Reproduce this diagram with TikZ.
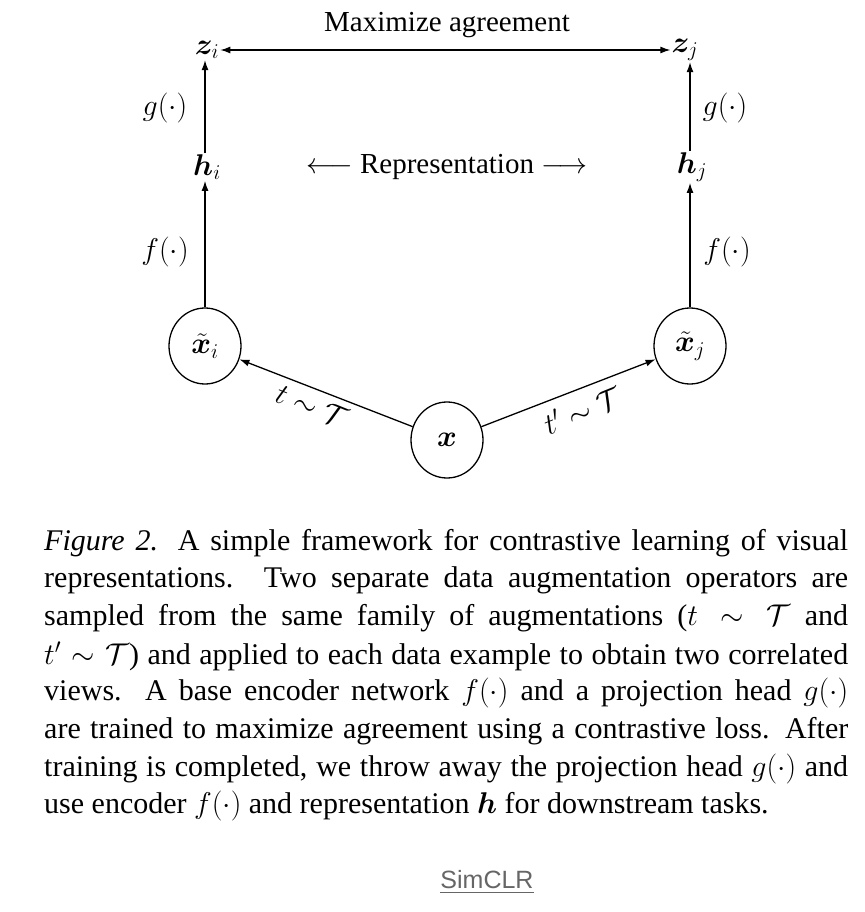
\RequirePackage{fix-cm}
\documentclass[tikz,border=0pt]{standalone}
\usepackage{amsmath,bm}
\usepackage{fontspec}
\setmainfont{Liberation Serif}
\usetikzlibrary{arrows.meta,shapes.geometric}
\begin{document}
\begin{tikzpicture}[x=1pt,y=-1pt,
  lab/.style={font=\fontsize{29}{33}\selectfont, inner sep=1pt},
  mlab/.style={font=\fontsize{30}{34}\selectfont, inner sep=1pt},
  circ/.style={draw, line width=1.3pt, ellipse, minimum width=72pt, minimum height=76pt, inner sep=0pt, font=\fontsize{30}{34}\selectfont},
  arr/.style={line width=1.3pt, -{Latex[length=10pt,width=7pt]}},
  capline/.style={anchor=west, inner sep=0pt, font=\fontsize{30}{36}\selectfont}]
\useasboundingbox (0,0) rectangle (864,912);
% top
\node[mlab] (zi) at (207,50) {$\bm{z}_i$};
\node[mlab] (zj) at (685,50) {$\bm{z}_j$};
\node[lab] (max) at (447,25) {Maximize agreement};
\draw[line width=1.3pt, {Latex[length=10pt,width=7pt]}-{Latex[length=10pt,width=7pt]}] (zi.east) -- (zj.west);
\node[mlab] (hi) at (207,167) {$\bm{h}_i$};
\node[mlab] (hj) at (692,167) {$\bm{h}_j$};
\node[lab] (rep) at (447,167) {$\longleftarrow$ Representation $\longrightarrow$};
\node[mlab] (gl) at (165,108) {$g(\cdot)$};
\node[mlab] (gr) at (725,108) {$g(\cdot)$};
\node[mlab] (fl) at (165,252) {$f(\cdot)$};
\node[mlab] (fr) at (727,252) {$f(\cdot)$};
\node[circ] (xi) at (205,346) {$\tilde{\bm{x}}_i$};
\node[circ] (xj) at (690,346) {$\tilde{\bm{x}}_j$};
\node[circ] (x) at (447,440) {$\bm{x}$};
\draw[arr] ([xshift=-2pt]hi.north) -- ([xshift=-2pt]hi.north |- zi.south);
\draw[arr] ([xshift=-2pt]hj.north) -- ([xshift=-2pt]hj.north |- zj.south);
\draw[arr] (xi.north) -- (xi.north |- hi.south);
\draw[arr] (xj.north) -- (xj.north |- hj.south);
\draw[arr] (x) -- (xi);
\draw[arr] (x) -- (xj);
\node[mlab, rotate=-22] (tl) at (312,406) {$t\sim\mathcal{T}$};
\node[mlab, rotate=22] (tr) at (582,410) {$t'\sim\mathcal{T}$};
% caption
\node[capline] (c1) at (44,543) {\makebox[804pt][s]{\textit{Figure 2.} A simple framework for contrastive learning of visual}};
\node[capline] (c2) at (44,580) {\makebox[804pt][s]{representations. Two separate data augmentation operators are}};
\node[capline] (c3) at (44,618) {\makebox[804pt][s]{sampled from the same family of augmentations ($t\sim\mathcal{T}$ and}};
\node[capline] (c4) at (44,656) {\makebox[804pt][s]{$t'\sim\mathcal{T}$) and applied to each data example to obtain two correlated}};
\node[capline] (c5) at (44,693) {\makebox[804pt][s]{views. A base encoder network $f(\cdot)$ and a projection head $g(\cdot)$}};
\node[capline] (c6) at (44,731) {\makebox[804pt][s]{are trained to maximize agreement using a contrastive loss. After}};
\node[capline] (c7) at (44,769) {\makebox[804pt][s]{training is completed, we throw away the projection head $g(\cdot)$ and}};
\node[capline] (c8) at (44,806) {use encoder $f(\cdot)$ and representation $\bm{h}$ for downstream tasks.};
\node[inner sep=0pt, text=black!60, font=\fontsize{25}{28}\selectfont\fontspec{Liberation Sans}] (sim) at (487,882) {\underline{SimCLR}};
\end{tikzpicture}
\end{document}
